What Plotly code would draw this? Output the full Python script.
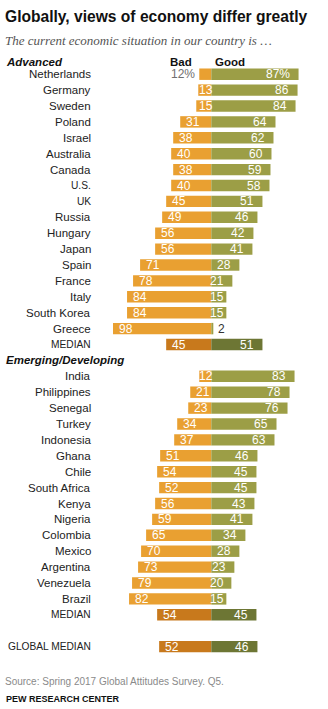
import plotly.graph_objects as go

# ---------------- data ----------------
adv_countries = ["Netherlands", "Germany", "Sweden", "Poland", "Israel", "Australia", "Canada",
                 "U.S.", "UK", "Russia", "Hungary", "Japan", "Spain", "France", "Italy",
                 "South Korea", "Greece"]
adv_bad = [12, 13, 15, 31, 38, 40, 38, 40, 45, 49, 56, 56, 71, 78, 84, 84, 98]
adv_good = [87, 86, 84, 64, 62, 60, 59, 58, 51, 46, 42, 41, 28, 21, 15, 15, 2]
adv_median = [45, 51]

em_countries = ["India", "Philippines", "Senegal", "Turkey", "Indonesia", "Ghana", "Chile",
                "South Africa", "Kenya", "Nigeria", "Colombia", "Mexico", "Argentina",
                "Venezuela", "Brazil"]
em_bad = [12, 21, 23, 34, 37, 51, 54, 52, 56, 59, 65, 70, 73, 79, 82]
em_good = [83, 78, 76, 65, 63, 46, 45, 45, 43, 41, 34, 28, 23, 20, 15]
em_median = [54, 45]
global_median = [52, 46]

# ---------------- layout constants ----------------
W, H = 328, 709
ZERO_PX = 211.3
SCALE = 1.003          # px per percentage point
ROW0_PX = 74.2
ROW_PX = 15.9

C_BAD = "#E9A031"
C_GOOD = "#9C9E46"
C_BAD_MED = "#C8791C"
C_GOOD_MED = "#6D7634"
FONT = "Liberation Sans, Arial, sans-serif"


def pxx(p):
    return p / W


def pxy(p):
    return 1 - p / H


# build rows
labels, bad, good, rows, is_med = [], [], [], [], []
for i, c in enumerate(adv_countries):
    labels.append(c); bad.append(adv_bad[i]); good.append(adv_good[i]); rows.append(i); is_med.append(False)
labels.append("MEDIAN"); bad.append(adv_median[0]); good.append(adv_median[1]); rows.append(17); is_med.append(True)
for i, c in enumerate(em_countries):
    labels.append(c); bad.append(em_bad[i]); good.append(em_good[i]); rows.append(19 + i); is_med.append(False)
labels.append("MEDIAN"); bad.append(em_median[0]); good.append(em_median[1]); rows.append(34); is_med.append(True)
labels.append("GLOBAL MEDIAN"); bad.append(global_median[0]); good.append(global_median[1]); rows.append(36); is_med.append(True)

fig = go.Figure()
fig.add_trace(go.Bar(
    y=rows, x=[-v for v in bad], orientation="h", width=0.72,
    marker=dict(color=[C_BAD_MED if m else C_BAD for m in is_med], line=dict(width=0)),
    hoverinfo="skip", showlegend=False,
))
fig.add_trace(go.Bar(
    y=rows, x=good, orientation="h", width=0.72,
    marker=dict(color=[C_GOOD_MED if m else C_GOOD for m in is_med], line=dict(width=0)),
    hoverinfo="skip", showlegend=False,
))

ann = []
txt_font = dict(family=FONT, size=12, color="white")
for k, (lab, b, g, r) in enumerate(zip(labels, bad, good, rows)):
    # country label
    ann.append(dict(xref="paper", yref="y", x=pxx(92), y=r, xanchor="right", yanchor="middle",
                    text=lab, showarrow=False, borderpad=0,
                    font=dict(family=FONT, size=10.2 if lab.isupper() else 11.5, color="#222222")))
    # bad value
    if k == 0:
        ann.append(dict(xref="x", yref="y", x=-b - 3.5, y=r, xanchor="right", yanchor="middle",
                        text=f"{b}%", showarrow=False, borderpad=0,
                        font=dict(family=FONT, size=12, color="#6f6f6f")))
    else:
        ann.append(dict(xref="x", yref="y", x=min(-b + 4.5, -13.5), y=r, xanchor="left",
                        yanchor="middle", text=str(b), showarrow=False, borderpad=0, font=txt_font))
    # good value
    gtxt = f"{g}%" if k == 0 else str(g)
    if g < 10:
        ann.append(dict(xref="x", yref="y", x=g + 4, y=r, xanchor="left", yanchor="middle",
                        text=gtxt, showarrow=False, borderpad=0,
                        font=dict(family=FONT, size=12, color="#333333")))
    else:
        ann.append(dict(xref="x", yref="y", x=max(g - 7.5, 14), y=r, xanchor="right",
                        yanchor="middle", text=gtxt, showarrow=False, borderpad=0, font=txt_font))

# headers & titles
ann += [
    dict(xref="paper", yref="paper", x=pxx(4), y=pxy(17), xanchor="left", yanchor="middle",
         text="<b>Globally, views of economy differ greatly</b>", showarrow=False, borderpad=0,
         font=dict(family=FONT, size=15.6, color="#111111")),
    dict(xref="paper", yref="paper", x=pxx(4), y=pxy(40), xanchor="left", yanchor="middle",
         text="<i>The current economic situation in our country is …</i>", showarrow=False,
         borderpad=0, font=dict(family="Liberation Serif, Georgia, serif", size=13, color="#555555")),
    dict(xref="paper", yref="paper", x=pxx(5), y=pxy(62), xanchor="left", yanchor="middle",
         text="<b><i>Advanced</i></b>", showarrow=False, borderpad=0,
         font=dict(family=FONT, size=11.5, color="#111111")),
    dict(xref="paper", yref="paper", x=pxx(181), y=pxy(62), xanchor="center", yanchor="middle",
         text="<b>Bad</b>", showarrow=False, borderpad=0,
         font=dict(family=FONT, size=11.5, color="#111111")),
    dict(xref="paper", yref="paper", x=pxx(229.5), y=pxy(62), xanchor="center", yanchor="middle",
         text="<b>Good</b>", showarrow=False, borderpad=0,
         font=dict(family=FONT, size=11.5, color="#111111")),
    dict(xref="paper", yref="y", x=pxx(5), y=18, xanchor="left", yanchor="middle",
         text="<b><i>Emerging/Developing</i></b>", showarrow=False, borderpad=0,
         font=dict(family=FONT, size=11.5, color="#111111")),
    dict(xref="paper", yref="paper", x=pxx(4), y=pxy(681.5), xanchor="left", yanchor="middle",
         text="Source: Spring 2017 Global Attitudes Survey. Q5.", showarrow=False, borderpad=0,
         font=dict(family=FONT, size=10, color="#8a8a8a")),
    dict(xref="paper", yref="paper", x=pxx(5), y=pxy(699), xanchor="left", yanchor="middle",
         text="<b>PEW RESEARCH CENTER</b>", showarrow=False, borderpad=0,
         font=dict(family=FONT, size=9, color="#111111")),
]

x_left = -ZERO_PX / SCALE
x_right = (W - ZERO_PX) / SCALE
y_top = -ROW0_PX / ROW_PX
y_bottom = (H - ROW0_PX) / ROW_PX

fig.update_layout(
    width=W, height=H,
    margin=dict(l=0, r=0, t=0, b=0),
    paper_bgcolor="white", plot_bgcolor="white",
    barmode="overlay",
    xaxis=dict(range=[x_left, x_right], visible=False, fixedrange=True),
    yaxis=dict(range=[y_bottom, y_top], visible=False, fixedrange=True),
    annotations=ann,
    font=dict(family=FONT),
)

fig.write_html("out.html", config={"displayModeBar": False})
